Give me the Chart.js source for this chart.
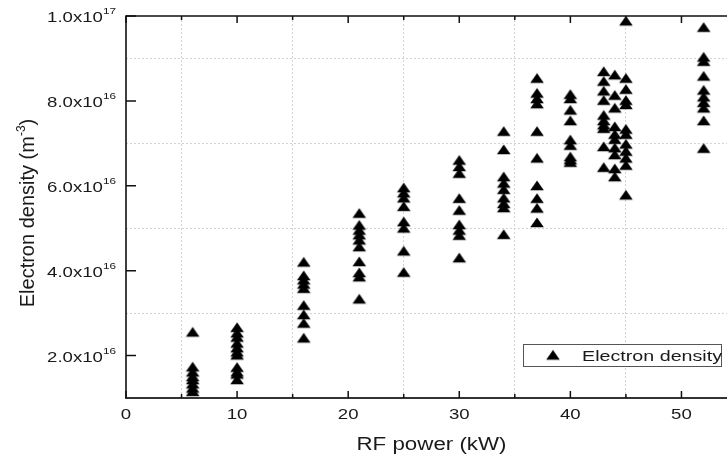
<!DOCTYPE html>
<html>
<head>
<meta charset="utf-8">
<script src="https://cdn.jsdelivr.net/npm/chart.js@4.4.1/dist/chart.umd.min.js"></script>
<style>
  html, body { margin: 0; padding: 0; background: #fff; overflow: hidden; width: 727px; height: 457px; }
  canvas { display: block; }
</style>
</head>
<body>
<canvas id="chart" width="760" height="457"></canvas>
<script>
// RF power levels (kW)
const powers = [6, 10, 16, 21, 25, 30, 34, 37, 40, 43, 44, 45, 52];

// Electron density at each RF power, in units of 1e16 m^-3
const ne06 = [2.52, 1.70, 1.58, 1.47, 1.40, 1.30, 1.20, 1.12];
const ne10 = [2.63, 2.50, 2.40, 2.26, 2.15, 2.05, 1.98, 1.69, 1.58, 1.53, 1.40];
const ne16 = [4.17, 3.85, 3.75, 3.65, 3.55, 3.15, 2.93, 2.73, 2.38];
const ne21 = [5.32, 5.04, 4.92, 4.81, 4.69, 4.53, 4.18, 3.92, 3.82, 3.30];
const ne25 = [5.92, 5.80, 5.68, 5.48, 5.12, 4.97, 4.43, 3.93];
const ne30 = [6.57, 6.42, 6.26, 5.67, 5.39, 5.05, 4.92, 4.80, 4.27];
const ne34 = [7.25, 6.82, 6.18, 6.03, 5.88, 5.68, 5.55, 5.45, 4.82];
const ne37 = [8.50, 8.15, 8.02, 7.90, 7.25, 6.62, 5.97, 5.67, 5.44, 5.10];
const ne40 = [8.12, 8.02, 7.75, 7.50, 7.05, 6.92, 6.65, 6.58, 6.52];
const ne43 = [8.66, 8.43, 8.20, 7.98, 7.63, 7.50, 7.40, 7.32, 6.89, 6.40];
const ne44 = [8.58, 8.10, 7.80, 7.36, 7.18, 7.06, 6.86, 6.70, 6.37, 6.18];
const ne45 = [9.85, 8.50, 8.24, 7.98, 7.88, 7.30, 7.18, 6.95, 6.78, 6.62, 6.45, 5.75];
const ne52 = [9.70, 9.00, 8.90, 8.55, 8.22, 8.06, 7.93, 7.80, 7.50, 6.85];
const densityByPower = [ne06, ne10, ne16, ne21, ne25, ne30, ne34, ne37, ne40, ne43, ne44, ne45, ne52];

// Axis tick labels
const xTickValues = [0, 10, 20, 30, 40, 50];
const xTickLabels = ['0', '10', '20', '30', '40', '50'];
const yTickValues = [2, 4, 6, 8, 10];
const yTickMantissas = ['2.0', '4.0', '6.0', '8.0', '1.0'];
const yTickExponents = ['16', '16', '16', '16', '17'];

const seriesName = 'Electron density';
const xTitle = 'RF power (kW)';
const yTitleMain = 'Electron density (m';
const yTitleSup = '-3';
const yTitleEnd = ')';

const FONT = '"Liberation Sans", Arial, Helvetica, sans-serif';
const INK = '#1a1a1a';
const SX = 1.24; // horizontal widening of the lettering

const points = [];
powers.forEach((p, i) => densityByPower[i].forEach(v => points.push({ x: p, y: v })));

// Filled triangle marker, its centroid sitting at the image centre
function triangleMarker(w, h) {
  const c = document.createElement('canvas');
  const ch = Math.ceil(h * 4 / 3) + 2;
  c.width = Math.ceil(w) + 2;
  c.height = ch;
  const g = c.getContext('2d');
  const cx = c.width / 2, cy = ch / 2;
  const top = cy - 2 * h / 3;
  g.fillStyle = '#000';
  g.beginPath();
  g.moveTo(cx, top);
  g.lineTo(cx + w / 2, top + h);
  g.lineTo(cx - w / 2, top + h);
  g.closePath();
  g.fill();
  return c;
}
const marker = triangleMarker(13.6, 9.8);

function wideText(ctx, text, x, y, size, align, sx) {
  ctx.save();
  ctx.font = size + 'px ' + FONT;
  ctx.fillStyle = INK;
  ctx.textBaseline = 'alphabetic';
  const w = ctx.measureText(text).width * sx;
  let x0 = x;
  if (align === 'center') x0 = x - w / 2;
  else if (align === 'right') x0 = x - w;
  ctx.translate(x0, y);
  ctx.scale(sx, 1);
  ctx.textAlign = 'left';
  ctx.fillText(text, 0, 0);
  ctx.restore();
  return w;
}
function textWidth(ctx, text, size, sx) {
  ctx.save();
  ctx.font = size + 'px ' + FONT;
  const w = ctx.measureText(text).width * sx;
  ctx.restore();
  return w;
}

const framePlugin = {
  id: 'frame',
  afterDraw(chart) {
    const ctx = chart.ctx;
    const xs = chart.scales.x, ys = chart.scales.y;
    const { left, right, top, bottom } = chart.chartArea;

    // axis lines
    ctx.save();
    ctx.strokeStyle = '#111';
    ctx.lineWidth = 1.6;
    ctx.beginPath();
    ctx.moveTo(left, top); ctx.lineTo(chart.width, top);
    ctx.moveTo(left, top - 0.8); ctx.lineTo(left, bottom + 0.8);
    ctx.stroke();
    ctx.strokeStyle = '#333';
    ctx.lineWidth = 2;
    ctx.beginPath();
    ctx.moveTo(left - 0.8, bottom); ctx.lineTo(chart.width, bottom);
    ctx.stroke();

    // tick marks, pointing into the plot
    ctx.strokeStyle = '#111';
    ctx.lineWidth = 1.5;
    ctx.beginPath();
    for (let v = 0; v <= 55; v += 5) {
      const px = xs.getPixelForValue(v);
      const len = v % 10 === 0 ? 7 : 4;
      ctx.moveTo(px, bottom); ctx.lineTo(px, bottom - len);
      ctx.moveTo(px, top); ctx.lineTo(px, top + len);
    }
    yTickValues.forEach(v => {
      const py = ys.getPixelForValue(v);
      ctx.moveTo(left, py); ctx.lineTo(left + 10, py);
    });
    ctx.stroke();
    ctx.restore();

    // x tick labels
    xTickValues.forEach((v, i) => {
      wideText(ctx, xTickLabels[i], xs.getPixelForValue(v), bottom + 21, 15, 'center', SX);
    });

    // y tick labels with superscript exponent
    yTickValues.forEach((v, i) => {
      const py = ys.getPixelForValue(v);
      const main = yTickMantissas[i] + 'x10';
      const wSup = textWidth(ctx, yTickExponents[i], 9.5, SX);
      const wMain = textWidth(ctx, main, 15, SX);
      const rightEdge = left - 10;
      wideText(ctx, main, rightEdge - wSup - wMain, py + 6, 15, 'left', SX);
      wideText(ctx, yTickExponents[i], rightEdge - wSup, py - 2, 9.5, 'left', SX);
    });

    // x title
    wideText(ctx, xTitle, (left + right) / 2, bottom + 52, 18, 'center', SX);

    // y title, rotated, with superscript unit exponent
    ctx.save();
    const cy = (top + bottom) / 2 + 6;
    ctx.translate(34, cy);
    ctx.rotate(-Math.PI / 2);
    ctx.fillStyle = INK;
    ctx.textBaseline = 'alphabetic';
    ctx.font = '20px ' + FONT;
    const w1 = ctx.measureText(yTitleMain).width;
    const w3 = ctx.measureText(yTitleEnd).width;
    ctx.font = '12px ' + FONT;
    const w2 = ctx.measureText(yTitleSup).width;
    const x0 = -(w1 + w2 + w3) / 2;
    ctx.font = '20px ' + FONT;
    ctx.fillText(yTitleMain, x0, 0);
    ctx.font = '12px ' + FONT;
    ctx.fillText(yTitleSup, x0 + w1, -9);
    ctx.font = '20px ' + FONT;
    ctx.fillText(yTitleEnd, x0 + w1 + w2, 0);
    ctx.restore();

    // legend box
    ctx.save();
    const lx = 523.5, ly = 344.5, lw = 198, lh = 22;
    ctx.fillStyle = '#fff';
    ctx.fillRect(lx, ly, lw, lh);
    ctx.strokeStyle = '#555';
    ctx.lineWidth = 1;
    ctx.strokeRect(lx, ly, lw, lh);
    ctx.drawImage(marker, 553 - marker.width / 2, ly + lh / 2 - marker.height / 2 + 1);
    ctx.restore();
    wideText(ctx, seriesName, 582, ly + lh / 2 + 5.5, 15.5, 'left', 1.27);
  }
};

new Chart(document.getElementById('chart'), {
  type: 'scatter',
  data: {
    datasets: [{
      label: seriesName,
      data: points,
      pointStyle: marker,
      pointRadius: 7,
      pointHoverRadius: 7,
      backgroundColor: '#000',
      borderColor: '#000',
      clip: false
    }]
  },
  options: {
    responsive: false,
    animation: false,
    devicePixelRatio: 1,
    layout: { padding: { left: 126, top: 16, right: 23, bottom: 59 } },
    plugins: { legend: { display: false }, tooltip: { enabled: false } },
    scales: {
      x: {
        type: 'linear', min: 0, max: 55,
        ticks: { display: false, stepSize: 5 },
        grid: {
          drawTicks: false,
          lineWidth: 1,
          color: c => (c.tick && c.tick.value % 10 === 5) ? '#d2d2d2' : 'rgba(0,0,0,0)'
        },
        border: { display: false, dash: [2, 2] }
      },
      y: {
        type: 'linear', min: 1, max: 10,
        ticks: { display: false, stepSize: 1 },
        grid: {
          drawTicks: false,
          lineWidth: 1,
          color: c => (c.tick && c.tick.value % 2 === 1 && c.tick.value > 1) ? '#d2d2d2' : 'rgba(0,0,0,0)'
        },
        border: { display: false, dash: [2, 2] }
      }
    }
  },
  plugins: [framePlugin]
});
</script>
</body>
</html>
